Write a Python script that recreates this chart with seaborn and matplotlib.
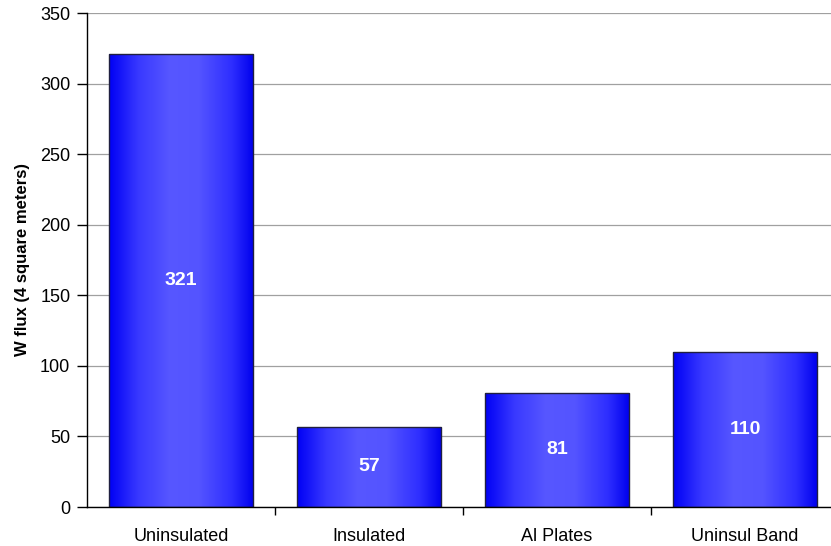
import matplotlib
matplotlib.use("Agg")
import matplotlib.pyplot as plt
import seaborn as sns
import numpy as np
import pandas as pd
from matplotlib.colors import LinearSegmentedColormap

categories = ["Uninsulated", "Insulated", "Al Plates", "Uninsul Band"]
values = [321, 57, 81, 110]
y_ticks = [0, 50, 100, 150, 200, 250, 300, 350]
y_label = "W flux (4 square meters)"

sns.set_theme(style="white")
plt.rcParams["font.family"] = ["Liberation Sans", "DejaVu Sans"]
plt.rcParams["text.color"] = "black"
plt.rcParams["axes.labelcolor"] = "black"
plt.rcParams["xtick.color"] = "black"
plt.rcParams["ytick.color"] = "black"

df = pd.DataFrame({"cat": categories, "val": values})

fig = plt.figure(figsize=(8.31, 5.46), dpi=100)
W, H = 831, 546
left, right, top, bottom = 87, 839, 13, 507
ax = fig.add_axes([left / W, 1 - bottom / H, (right - left) / W, (bottom - top) / H])

sns.barplot(data=df, x="cat", y="val", color="blue", width=0.77, ax=ax,
            edgecolor="#202040", linewidth=1.0, saturation=1)

cmap = LinearSegmentedColormap.from_list(
    "grad",
    [(0.0, (0.0, 0.0, 0.96)), (0.2, (0.22, 0.22, 1.0)), (0.42, (0.34, 0.34, 1.0)),
     (0.62, (0.33, 0.33, 1.0)), (0.85, (0.18, 0.18, 1.0)), (1.0, (0.0, 0.0, 0.93))])
grad = np.linspace(0, 1, 256).reshape(1, -1)
for p in ax.patches:
    x0, y0 = p.get_x(), p.get_y()
    w, h = p.get_width(), p.get_height()
    im = ax.imshow(grad, extent=[x0, x0 + w, y0, y0 + h], aspect="auto",
                   cmap=cmap, zorder=p.get_zorder(), interpolation="bilinear")
    im.set_clip_path(p)
    p.set_facecolor("none")
    p.set_zorder(p.get_zorder() + 0.5)

ax.bar_label(ax.containers[0], labels=[str(v) for v in values], label_type="center",
             color="white", fontweight="bold", fontsize=14)

ax.set_xlim(-0.5, 3.5)
ax.set_ylim(0, 350)
ax.set_yticks(y_ticks)
ax.set_yticklabels([str(t) for t in y_ticks], fontsize=13, color="black")
ax.set_xticks(range(len(categories)))
ax.set_xticklabels(categories, fontsize=13, color="black")
ax.set_xticks([0.5, 1.5, 2.5], minor=True)
ax.tick_params(axis="x", which="major", bottom=True, length=0, pad=15)
ax.tick_params(axis="x", which="minor", bottom=True, length=6, width=1,
               color="black", direction="out")
ax.tick_params(axis="y", left=True, length=7, width=1, color="black",
               direction="out", pad=5)
ax.yaxis.grid(True, color="#a0a0a0", linewidth=0.9)
ax.set_axisbelow(True)
for s in ["top", "right"]:
    ax.spines[s].set_visible(False)
for s in ["left", "bottom"]:
    ax.spines[s].set_color("black")
    ax.spines[s].set_linewidth(1.0)
ax.set_xlabel("")
ax.set_ylabel(y_label, fontsize=12, fontweight="bold", labelpad=7, color="black")

fig.savefig("out.png", dpi=100)
